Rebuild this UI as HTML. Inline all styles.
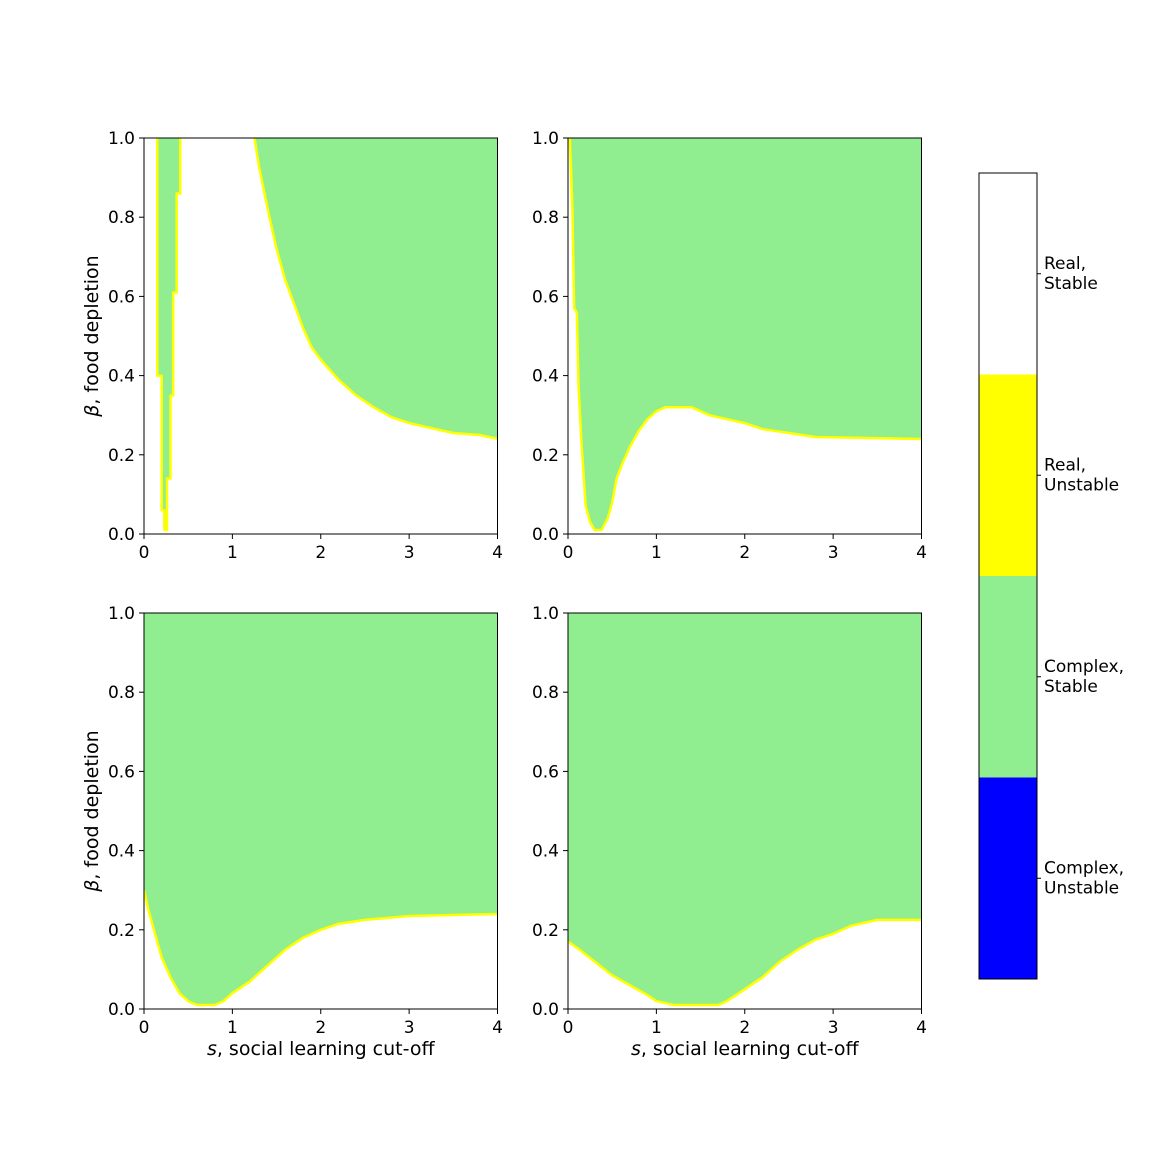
<!DOCTYPE html>
<html><head><meta charset="utf-8"><style>body{margin:0;background:#fff}svg{display:block;font-family:"DejaVu Sans","Liberation Sans",sans-serif}</style></head>
<body>
<svg id="fig" width="1152" height="1152" viewBox="0 0 1152 1152" xmlns="http://www.w3.org/2000/svg"></svg>
<script>
const xTicks=[0,1,2,3,4];
const yTicks=[0.0,0.2,0.4,0.6,0.8,1.0];
const p1StripS=[0.15,0.2,0.23,0.26,0.3,0.33,0.37,0.41];
const p1StripB=[0.4,0.06,0.01,0.14,0.35,0.61,0.86];
const p1CurveS=[1.25,1.3,1.4,1.5,1.6,1.7,1.8,1.9,2.0,2.2,2.4,2.6,2.8,3.0,3.2,3.5,3.8,4.0];
const p1CurveB=[1.0,0.93,0.82,0.72,0.64,0.58,0.52,0.47,0.44,0.39,0.35,0.32,0.295,0.28,0.27,0.255,0.25,0.24];
const p2S=[0.02,0.05,0.07,0.1,0.12,0.15,0.2,0.25,0.3,0.38,0.45,0.5,0.55,0.6,0.7,0.8,0.9,1.0,1.1,1.4,1.6,1.8,2.0,2.2,2.5,2.8,4.0];
const p2B=[1.0,0.82,0.57,0.56,0.37,0.24,0.07,0.03,0.01,0.01,0.04,0.08,0.14,0.17,0.22,0.26,0.29,0.31,0.32,0.32,0.30,0.29,0.28,0.265,0.255,0.245,0.24];
const p3S=[0,0.05,0.1,0.15,0.2,0.3,0.4,0.5,0.6,0.8,0.9,1.0,1.2,1.4,1.6,1.8,2.0,2.2,2.5,3.0,4.0];
const p3B=[0.30,0.25,0.21,0.17,0.13,0.08,0.04,0.02,0.01,0.01,0.02,0.04,0.07,0.11,0.15,0.18,0.20,0.215,0.225,0.235,0.24];
const p4S=[0,0.1,0.3,0.5,0.7,0.9,1.0,1.2,1.7,1.8,2.0,2.2,2.4,2.6,2.8,3.0,3.2,3.5,4.0];
const p4B=[0.17,0.155,0.12,0.085,0.06,0.035,0.02,0.01,0.01,0.02,0.05,0.08,0.12,0.15,0.175,0.19,0.21,0.225,0.225];
const cbLabels=[["Real,","Stable"],["Real,","Unstable"],["Complex,","Stable"],["Complex,","Unstable"]];
const cbColors=["#ffffff","#ffff00","#90ee90","#0000ff"];

const NS="http://www.w3.org/2000/svg";
const svg=document.getElementById('fig');
function mk(t,a,p){const e=document.createElementNS(NS,t);for(const k in a)e.setAttribute(k,a[k]);(p||svg).appendChild(e);return e;}
const defs=mk('defs',{});
const panels=[
 {x0:144,y0:138,name:'panel-top-left'},
 {x0:568,y0:138,name:'panel-top-right'},
 {x0:144,y0:613,name:'panel-bottom-left'},
 {x0:568,y0:613,name:'panel-bottom-right'}];
const W=353.5,H=396;
function curvePts(P,S,B){
  const sx=s=>P.x0+s/4*W, sy=b=>P.y0+H-b*H;
  return S.map((s,i)=>[sx(s),sy(B[i])]);
}
function stepPoly(P,S,B){
  const sx=s=>P.x0+s/4*W, sy=b=>P.y0+H-b*H;
  let pts=[[sx(S[0]),sy(1)-3]];
  for(let i=0;i<B.length;i++){pts.push([sx(S[i]),sy(B[i])]);pts.push([sx(S[i+1]),sy(B[i])]);}
  pts.push([sx(S[S.length-1]),sy(1)-3]);
  return pts;
}
const str=p=>p.map(q=>q.join(',')).join(' ');
panels.forEach((P,idx)=>{
  const cp=mk('clipPath',{id:'clip'+idx},defs);
  mk('rect',{x:P.x0,y:P.y0,width:W,height:H},cp);
  const g=mk('g',{});
  
  
  mk('rect',{x:P.x0,y:P.y0,width:W,height:H,fill:'#fff'},g);
  const cg=mk('g',{'clip-path':`url(#clip${idx})`},g);
  const addFill=(pts,line)=>{
    const r=mk('polygon',{points:str(pts),fill:'#90ee90'},cg);
    
    
    const l=mk('polyline',{points:str(line),fill:'none',stroke:'#ffff00','stroke-width':2.5,'stroke-linejoin':'round'},cg);
    
    
  };
  const top=P.y0-5, right=P.x0+W+5;
  if(idx===0){
    const sp=stepPoly(P,p1StripS,p1StripB);addFill(sp,sp);
    const c=curvePts(P,p1CurveS,p1CurveB);
    addFill([[c[0][0],top],...c,[right,c[c.length-1][1]],[right,top]],c);
  } else {
    const S=[p2S,p3S,p4S][idx-1],B=[p2B,p3B,p4B][idx-1];
    const c=curvePts(P,S,B);
    let line=c;
    if(idx===1){line=[[c[0][0],top],...c];}
    addFill([[P.x0-5,top],[P.x0-5,c[0][1]],...c,[right,c[c.length-1][1]],[right,top]].concat(idx===1?[]:[]),line);
    if(idx===1){ // white left of boundary start
      mk('rect',{x:P.x0,y:P.y0,width:c[0][0]-P.x0,height:H,fill:'#fff'},cg);
      mk('polyline',{points:str(line.slice(0,3)),fill:'none',stroke:'#ffff00','stroke-width':2.5},cg);
    }
  }
  mk('rect',{x:P.x0,y:P.y0,width:W,height:H,fill:'none',stroke:'#000','stroke-width':1},g);
  xTicks.forEach(t=>{
    const x=P.x0+t/4*W;
    mk('line',{x1:x,x2:x,y1:P.y0+H,y2:P.y0+H+5,stroke:'#000'},g);
    const tx=mk('text',{x:x,y:P.y0+H+24,'font-size':17,'text-anchor':'middle'},g);tx.textContent=t;
    
  });
  yTicks.forEach(t=>{
    const y=P.y0+H-t*H;
    mk('line',{x1:P.x0-5,x2:P.x0,y1:y,y2:y,stroke:'#000'},g);
    const tx=mk('text',{x:P.x0-9,y:y+6,'font-size':17,'text-anchor':'end'},g);tx.textContent=t.toFixed(1);
    
  });
  if(idx%2===0){
    const yl=mk('text',{x:0,y:0,'font-size':19,'text-anchor':'middle',transform:`translate(98,${P.y0+H/2}) rotate(-90)`},g);
    yl.innerHTML='<tspan font-style="italic">β</tspan>, food depletion';
    
  }
  if(idx>=2){
    const xl=mk('text',{x:P.x0+W/2,y:P.y0+H+46,'font-size':19,'text-anchor':'middle'},g);
    xl.innerHTML='<tspan font-style="italic">s</tspan>, social learning cut-off';
    
  }
});
const cb=mk('g',{});


const cx=979,cw=58,cy=173,ch=806,seg=ch/4;
cbColors.forEach((c,i)=>{
  const r=mk('rect',{x:cx,y:cy+i*seg,width:cw,height:seg+0.5,fill:c},cb);
  
  const ym=cy+i*seg+seg/2;
  mk('line',{x1:cx+cw,x2:cx+cw+4,y1:ym,y2:ym,stroke:'#000'},cb);
  cbLabels[i].forEach((l,j)=>{
    const t=mk('text',{x:1044,y:ym-5+j*20,'font-size':17},cb);t.textContent=l;
    
  });
});
mk('rect',{x:cx,y:cy,width:cw,height:ch,fill:'none',stroke:'#000','stroke-width':1},cb);
</script>
</body></html>
